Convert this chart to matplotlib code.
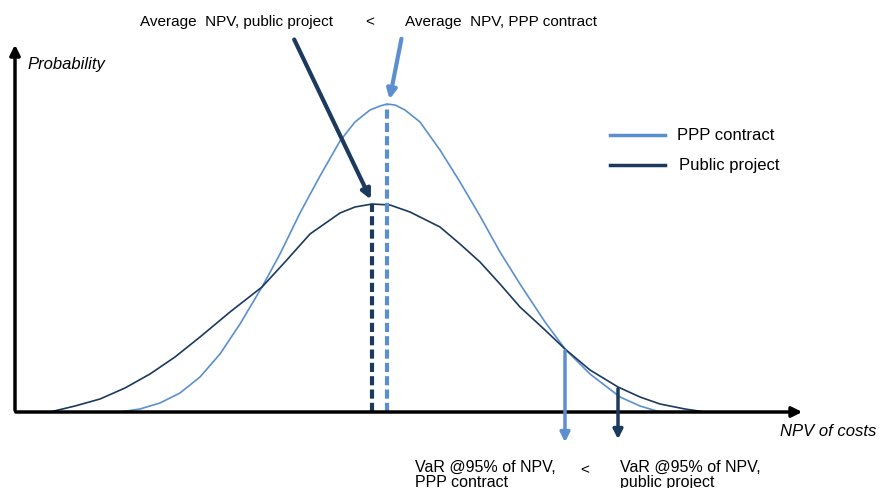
import matplotlib.pyplot as plt
import numpy as np

# curve points (x in px, height above the baseline in px)
ppp_x = [120, 140, 160, 180, 200, 220, 240, 262, 280, 300, 320, 340, 355,
         370, 380, 387, 395, 405, 420, 440, 460, 480, 500, 520, 545, 565,
         590, 620, 640, 660]
ppp_h = [0, 3, 9, 19, 35, 58, 88, 125, 158, 199, 236, 271, 290,
         302, 306, 308, 307, 302, 290, 262, 230, 196, 160, 128, 90, 63,
         38, 15, 6, 0]
pub_x = [50, 75, 100, 125, 150, 175, 200, 230, 262, 285, 310, 340, 355,
         372, 390, 410, 440, 460, 480, 500, 520, 545, 565, 590, 618, 640,
         660, 685, 705]
pub_h = [0, 6, 13, 24, 38, 55, 75, 100, 125, 150, 178, 199, 205,
         208, 207, 200, 185, 168, 150, 128, 105, 82, 63, 42, 25, 15,
         8, 3, 0]

mean_pub, mean_ppp = 372, 387
var_ppp, var_pub = 565, 618
labels = ['PPP contract', 'Public project']

light = '#5b8fd0'
dark = '#1b3a5e'

fig = plt.figure(figsize=(8.86, 4.89), dpi=100)
ax = fig.add_axes([0, 0, 1, 1])
ax.set_xlim(0, 886)
ax.set_ylim(-76, 413)
ax.axis('off')
plt.rcParams['font.family'] = ['Liberation Sans', 'DejaVu Sans']

# axes arrows
ax.annotate('', xy=(805, 0), xytext=(13, 0),
            arrowprops=dict(arrowstyle='-|>', color='black', lw=2.5, mutation_scale=15))
ax.annotate('', xy=(15, 370), xytext=(15, -1),
            arrowprops=dict(arrowstyle='-|>', color='black', lw=2.5, mutation_scale=15))

# curves
ax.plot(ppp_x, ppp_h, color=light, lw=1.2)
ax.plot(pub_x, pub_h, color=dark, lw=1.2)

# mean lines
ax.plot([mean_pub, mean_pub], [0, 208], color=dark, lw=3, dashes=(2.2, 1))
ax.plot([mean_ppp, mean_ppp], [0, 308], color=light, lw=3, dashes=(2.2, 1))

# pointer arrows to the means
ax.annotate('', xy=(mean_pub, 210), xytext=(293, 375),
            arrowprops=dict(arrowstyle='-|>', color=dark, lw=3, mutation_scale=14))
ax.annotate('', xy=(mean_ppp + 2, 310), xytext=(402, 376),
            arrowprops=dict(arrowstyle='-|>', color=light, lw=3, mutation_scale=14))

# VaR arrows
ax.annotate('', xy=(var_ppp, -33), xytext=(var_ppp, 64),
            arrowprops=dict(arrowstyle='-|>', color=light, lw=2.5, mutation_scale=14))
ax.annotate('', xy=(var_pub, -30), xytext=(var_pub, 26),
            arrowprops=dict(arrowstyle='-|>', color=dark, lw=2.5, mutation_scale=14))

fs = 11
ax.text(140, 391, 'Average  NPV, public project', fontsize=fs, va='center')
ax.text(370, 391, '<', fontsize=fs, va='center', ha='center')
ax.text(405, 391, 'Average  NPV, PPP contract', fontsize=fs, va='center')
ax.text(27, 348, 'Probability', fontsize=12, style='italic', va='center')
ax.text(780, -19, 'NPV of costs', fontsize=12, style='italic', va='center')
ax.text(415, -62, 'VaR @95% of NPV,\nPPP contract', fontsize=11.5, va='center',
        linespacing=0.95)
ax.text(585, -57, '<', fontsize=fs, va='center', ha='center')
ax.text(620, -62, 'VaR @95% of NPV,\npublic project', fontsize=11.5, va='center',
        linespacing=0.95)

# legend
for yy, col, lab, x0 in [(277, light, labels[0], 677), (247, dark, labels[1], 679)]:
    ax.plot([610, 665], [yy, yy], color=col, lw=2.5)
    ax.text(x0, yy, lab, fontsize=12, va='center')

fig.savefig('out.png', dpi=100)
